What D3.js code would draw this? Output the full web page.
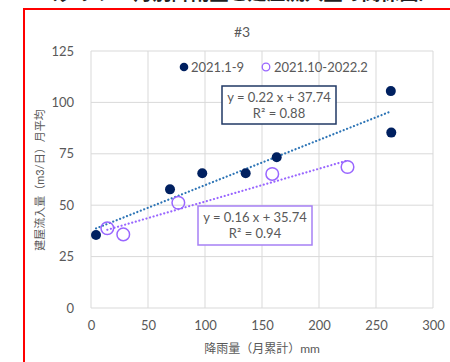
<!DOCTYPE html>
<html>
<head>
<meta charset="utf-8">
<script src="https://cdn.jsdelivr.net/npm/d3@7"></script>
<style>
  html, body { margin: 0; padding: 0; background: #fff; }
  svg { display: block; }
  text { font-family: Lato, "Noto Sans CJK JP", sans-serif; }
</style>
</head>
<body>
<svg id="chart" width="450" height="362"></svg>
<script>
// Monthly rainfall (mm) vs. building inflow (m3/day), two periods
const series1Name = "2021.1-9";
const series1Rain = [4.4, 69.3, 97.6, 135.7, 162.9, 263.0, 263.4];
const series1Flow = [35.5, 57.7, 65.5, 65.5, 73.3, 105.5, 85.3];

const series2Name = "2021.10-2022.2";
const series2Rain = [14.3, 28.3, 76.6, 159.0, 225.0];
const series2Flow = [38.8, 35.8, 51.2, 65.2, 68.6];

// Linear fits as printed on the chart
const fit1 = { slope: 0.22, intercept: 37.74, r2: 0.88 };
const fit2 = { slope: 0.16, intercept: 35.74, r2: 0.94 };

const xTicks = [0, 50, 100, 150, 200, 250, 300];
const yTicks = [0, 25, 50, 75, 100, 125];

const chartTitle = "#3";
const xTitle = "降雨量（月累計）mm";
const yTitle = "建屋流入量（m3/日）月平均";
const headerText = "（グラフ：月別降雨量と建屋流入量の関係図）";

const svg = d3.select("#chart");
const gridColor = "#d9d9d9";
const textColor = "#595959";
const navy = "#002060";
const trend1Color = "#2e75b6";
const purple = "#9966ff";

const x = d3.scaleLinear().domain([0, 300]).range([91, 433]);
const y = d3.scaleLinear().domain([0, 125]).range([308, 51]);

// Header line above the frame, running off the top edge of the page
svg.append("text")
  .attr("x", 238).attr("y", 0)
  .attr("text-anchor", "middle")
  .attr("font-size", 19)
  .attr("font-weight", "bold")
  .attr("fill", "#222")
  .text(headerText);

// Red frame around the figure
svg.append("path")
  .attr("d", "M24,362 L24,9 L452,9")
  .attr("fill", "none")
  .attr("stroke", "#ff0000")
  .attr("stroke-width", 2);

// Gridlines
const grid = svg.append("g");
grid.selectAll("line.h").data(yTicks).join("line")
  .attr("x1", x(0)).attr("x2", x(300))
  .attr("y1", d => y(d)).attr("y2", d => y(d))
  .attr("stroke", gridColor).attr("stroke-width", 1);
grid.selectAll("line.v").data(xTicks).join("line")
  .attr("y1", y(0)).attr("y2", y(125))
  .attr("x1", d => x(d)).attr("x2", d => x(d))
  .attr("stroke", gridColor).attr("stroke-width", 1);

// Axes (tick labels only, lines come from the grid)
const xAxis = svg.append("g")
  .attr("transform", `translate(0,${y(0)})`)
  .call(d3.axisBottom(x).tickValues(xTicks).tickSize(0).tickPadding(13));
const yAxis = svg.append("g")
  .attr("transform", `translate(${x(0)},0)`)
  .call(d3.axisLeft(y).tickValues(yTicks).tickSize(0).tickPadding(17));
[xAxis, yAxis].forEach(g => {
  g.select(".domain").remove();
  g.selectAll("text")
    .attr("fill", textColor)
    .attr("font-size", 13)
    .style("font-family", "Lato, 'Noto Sans CJK JP', sans-serif");
});

// Titles
svg.append("text")
  .attr("x", 242).attr("y", 37)
  .attr("text-anchor", "middle")
  .attr("font-size", 14)
  .attr("fill", textColor)
  .text(chartTitle);

svg.append("text")
  .attr("x", (x(0) + x(300)) / 2).attr("y", 353)
  .attr("text-anchor", "middle")
  .attr("font-size", 12)
  .attr("fill", textColor)
  .text(xTitle);

svg.append("text")
  .attr("transform", `translate(44,180) rotate(-90)`)
  .attr("text-anchor", "middle")
  .attr("font-size", 11)
  .attr("fill", textColor)
  .text(yTitle);

// Trendlines spanning each series' rainfall range
function trend(xs, fit, color) {
  const x0 = d3.min(xs), x1 = d3.max(xs);
  svg.append("line")
    .attr("x1", x(x0)).attr("y1", y(fit.slope * x0 + fit.intercept))
    .attr("x2", x(x1)).attr("y2", y(fit.slope * x1 + fit.intercept))
    .attr("stroke", color)
    .attr("stroke-width", 2.2)
    .attr("stroke-linecap", "round")
    .attr("stroke-dasharray", "0.1,3.6");
}
trend(series1Rain, fit1, trend1Color);
trend(series2Rain, fit2, purple);

// Points
const pts1 = series1Rain.map((r, i) => [r, series1Flow[i]]);
const pts2 = series2Rain.map((r, i) => [r, series2Flow[i]]);

svg.append("g").selectAll("circle").data(pts1).join("circle")
  .attr("cx", d => x(d[0])).attr("cy", d => y(d[1]))
  .attr("r", 5)
  .attr("fill", navy);

svg.append("g").selectAll("circle").data(pts2).join("circle")
  .attr("cx", d => x(d[0])).attr("cy", d => y(d[1]))
  .attr("r", 6.3)
  .attr("fill", "none")
  .attr("stroke", purple)
  .attr("stroke-width", 1.5);

// Legend
const legend = svg.append("g");
legend.append("circle").attr("cx", 184).attr("cy", 67).attr("r", 4.3).attr("fill", navy);
legend.append("text").attr("x", 191).attr("y", 72)
  .attr("font-size", 13).attr("fill", textColor).text(series1Name);
legend.append("circle").attr("cx", 266).attr("cy", 67).attr("r", 3.8)
  .attr("fill", "none").attr("stroke", purple).attr("stroke-width", 1.3);
legend.append("text").attr("x", 274).attr("y", 72)
  .attr("font-size", 13).attr("fill", textColor).text(series2Name);

// Equation labels
function eqBox(fit, bx, by, bw, bh, color) {
  const g = svg.append("g");
  g.append("rect")
    .attr("x", bx).attr("y", by).attr("width", bw).attr("height", bh)
    .attr("fill", "#fff")
    .attr("stroke", color).attr("stroke-width", 1.5);
  const cx = bx + bw / 2;
  g.append("text").attr("x", cx).attr("y", by + 15.5)
    .attr("text-anchor", "middle").attr("font-size", 13).attr("fill", textColor)
    .text(`y = ${fit.slope.toFixed(2)} x + ${fit.intercept.toFixed(2)}`);
  g.append("text").attr("x", cx).attr("y", by + 32)
    .attr("text-anchor", "middle").attr("font-size", 13).attr("fill", textColor)
    .text(`R² = ${fit.r2.toFixed(2)}`);
}
eqBox(fit1, 222, 86, 114, 38, "#203864");
eqBox(fit2, 198, 206, 114, 39, "#a680f5");
</script>
</body>
</html>
